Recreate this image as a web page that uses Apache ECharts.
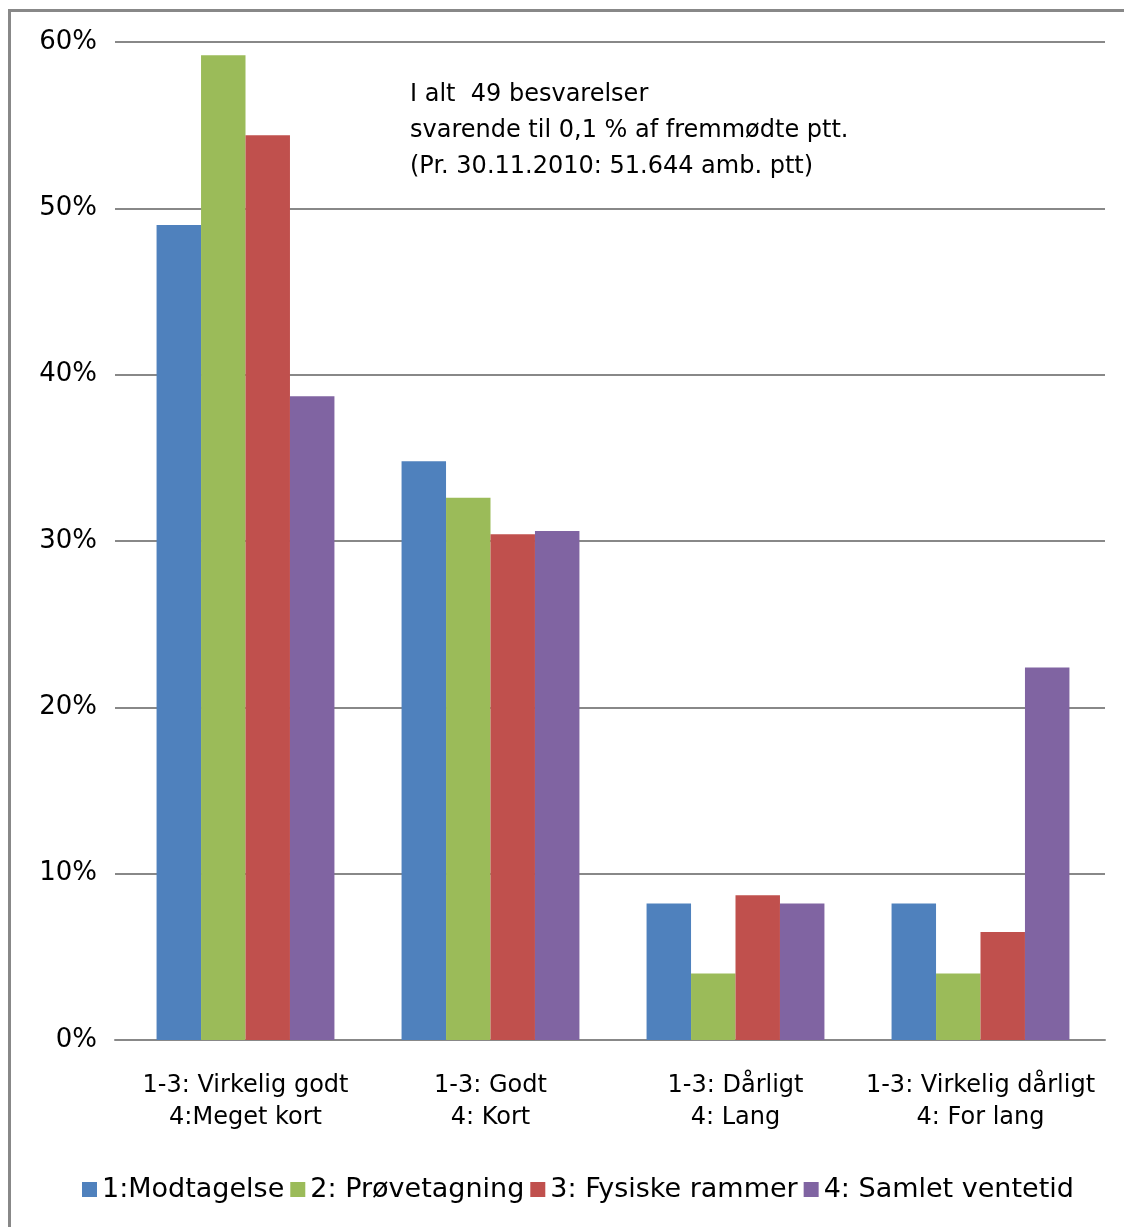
<!DOCTYPE html>
<html>
<head>
<meta charset="utf-8">
<script src="https://cdn.jsdelivr.net/npm/echarts@6/dist/echarts.min.js"></script>
<style>
  html, body { margin: 0; padding: 0; background: #fff; }
  #frame { position: absolute; left: 8px; top: 9px; width: 1200px; height: 1300px;
           border-left: 3px solid #888; border-top: 3px solid #888; }
  #main { position: absolute; left: 0; top: 0; width: 1124px; height: 1227px; }
</style>
</head>
<body>
<div id="frame"></div>
<div id="main"></div>
<script>
// kategorier og serier
const categories = ['1-3: Virkelig godt\n4:Meget kort', '1-3: Godt\n4: Kort', '1-3: Dårligt\n4: Lang', '1-3: Virkelig dårligt\n4: For lang']
const seriesNames = ['1:Modtagelse', '2: Prøvetagning', '3: Fysiske rammer', '4: Samlet ventetid']
const modtagelse = [49.0, 34.8, 8.2, 8.2]
const proevetagning = [59.2, 32.6, 4.0, 4.0]
const fysiskeRammer = [54.4, 30.4, 8.7, 6.5]
const samletVentetid = [38.7, 30.6, 8.2, 22.4]
const yTicks = [0, 10, 20, 30, 40, 50, 60]
const colors = ['#4F81BD', '#9BBB59', '#C0504D', '#8064A2']
const noteLines = ['I alt  49 besvarelser', 'svarende til 0,1 % af fremmødte ptt.', '(Pr. 30.11.2010: 51.644 amb. ptt)']

const font = 'DejaVu Sans'
const chart = echarts.init(document.getElementById('main'))

const values = [modtagelse, proevetagning, fysiskeRammer, samletVentetid]
const yMin = yTicks[0]
const yMax = yTicks[yTicks.length - 1]
const yStep = yTicks[1] - yTicks[0]

chart.setOption({
  animation: false,
  textStyle: { fontFamily: font },
  // grid 0: gitterlinjer og y-akse, grid 1: søjler (lidt smallere, som i Excel)
  grid: [
    { left: 115, right: 19, top: 42, bottom: 187 },
    { left: 123, right: 21, top: 42, bottom: 187 }
  ],
  legend: {
    bottom: 19,
    left: 77,
    itemWidth: 15,
    itemHeight: 15,
    itemGap: 6,
    icon: 'rect',
    textStyle: { fontSize: 27, color: '#000', fontFamily: font },
    data: seriesNames
  },
  xAxis: [
    {
      gridIndex: 0,
      type: 'category',
      data: categories,
      axisTick: { show: false },
      axisLabel: { show: false },
      axisLine: { lineStyle: { color: '#888', width: 2 } }
    },
    {
      gridIndex: 1,
      type: 'category',
      data: categories,
      axisTick: { show: false },
      axisLine: { show: false },
      axisLabel: { color: '#000', fontSize: 24, lineHeight: 32, margin: 30, interval: 0 }
    }
  ],
  yAxis: [
    {
      gridIndex: 0,
      type: 'value',
      min: yMin,
      max: yMax,
      interval: yStep,
      axisLine: { show: false },
      axisTick: { show: false },
      axisLabel: { color: '#000', fontSize: 26, margin: 18, formatter: '{value}%' },
      splitLine: { lineStyle: { color: '#888', width: 2 } }
    },
    {
      gridIndex: 1,
      type: 'value',
      min: yMin,
      max: yMax,
      interval: yStep,
      show: false,
      splitLine: { show: false }
    }
  ],
  graphic: [{
    type: 'text',
    left: 410,
    top: 77,
    style: {
      text: noteLines.join('\n'),
      font: '24px ' + font,
      lineHeight: 36,
      fill: '#000'
    }
  }],
  series: seriesNames.map((name, i) => ({
    name: name,
    type: 'bar',
    xAxisIndex: 1,
    yAxisIndex: 1,
    barGap: 0,
    barCategoryGap: '27.4%',
    itemStyle: { color: colors[i] },
    data: values[i]
  }))
})
</script>
</body>
</html>
